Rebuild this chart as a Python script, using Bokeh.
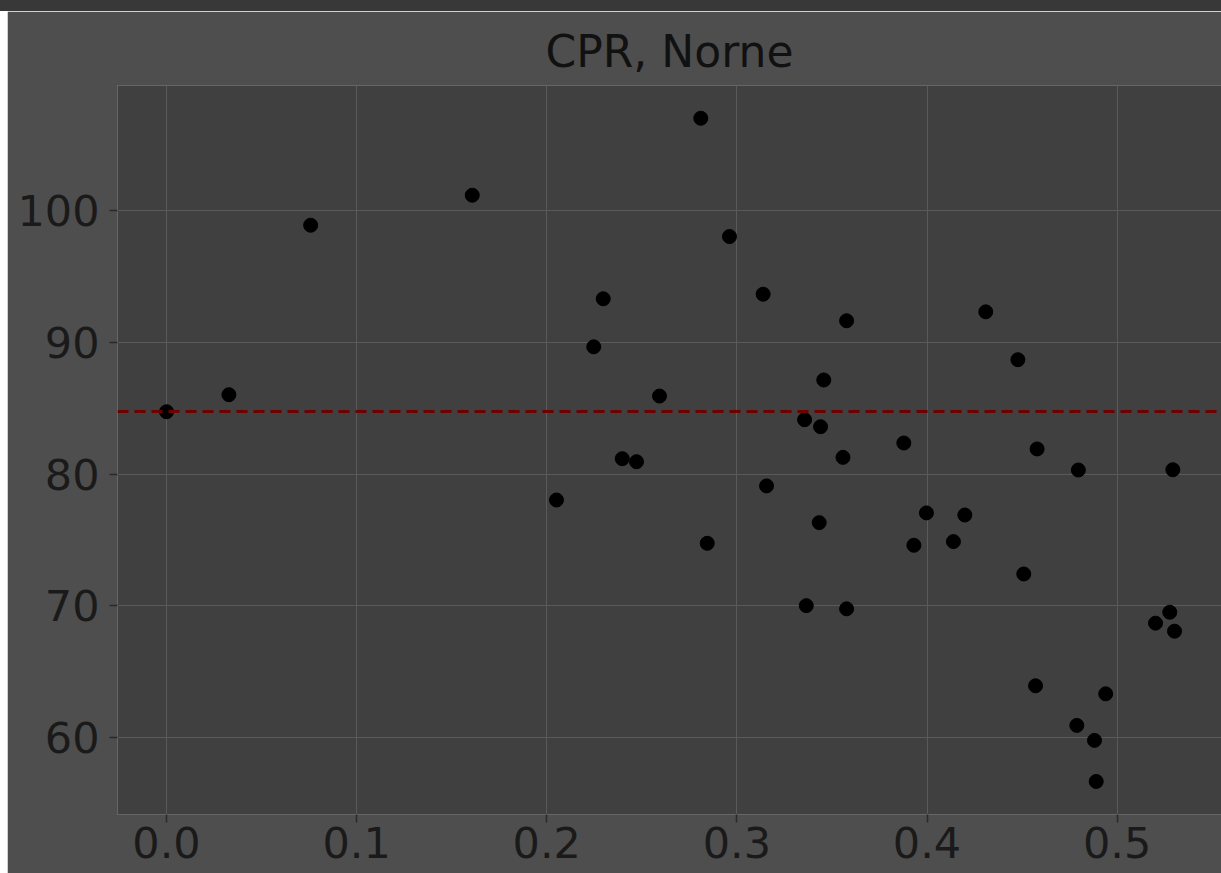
from bokeh.plotting import figure
from bokeh.models import Range1d, Span, FixedTicker, PrintfTickFormatter, Div, Spacer, BoxAnnotation
from bokeh.layouts import column, row
from bokeh.embed import file_html
from bokeh.resources import INLINE

# data
x_vals = [0.0000, 0.0328, 0.0758, 0.1608, 0.2051, 0.2247, 0.2297, 0.2397, 0.2472, 0.2593,
          0.2810, 0.2844, 0.2961, 0.3138, 0.3156, 0.3365, 0.3356, 0.3440, 0.3433, 0.3457,
          0.3558, 0.3577, 0.3577, 0.3878, 0.3931, 0.3997, 0.4139, 0.4199, 0.4309, 0.4478,
          0.4509, 0.4579, 0.4571, 0.4796, 0.4788, 0.4881, 0.4890, 0.4940, 0.5202, 0.5277,
          0.5302, 0.5293]
y_vals = [84.74, 86.03, 98.91, 101.19, 78.03, 89.67, 93.32, 81.17, 80.94, 85.93,
          107.04, 74.74, 98.05, 93.67, 79.10, 70.00, 84.13, 83.60, 76.31, 87.15,
          81.27, 91.65, 69.76, 82.36, 74.59, 77.05, 74.87, 76.89, 92.33, 88.69,
          72.41, 81.91, 63.91, 80.31, 60.90, 59.76, 56.64, 63.30, 68.67, 69.50,
          68.06, 80.33]
reference_level = 84.75
x_ticks = [0.0, 0.1, 0.2, 0.3, 0.4, 0.5]
y_ticks = [60, 70, 80, 90, 100]
title_text = "CPR, Norne"

FONT = "DejaVu Sans"

p = figure(width=1214, height=862, output_backend="svg", toolbar_location=None,
           x_range=Range1d(-0.0258, 0.5549), y_range=Range1d(54.13, 109.53),
           min_border_left=110, min_border_right=0, min_border_top=74, min_border_bottom=59,
           background_fill_color="#404040", border_fill_color="#4e4e4e")
p.outline_line_color = None

# plot-area fill drawn under the grid so that the frame has no light edge
p.add_layout(BoxAnnotation(fill_color="#404040", fill_alpha=1.0, line_color=None,
                           level="image"))

p.title.text = title_text
p.title.align = "center"
p.title.text_font = FONT
p.title.text_font_size = "44px"
p.title.text_font_style = "normal"
p.title.text_color = "#111111"
p.title.standoff = 18

for ax in (p.xaxis[0], p.yaxis[0]):
    ax.axis_line_color = None
    ax.major_tick_line_color = "#2a2a2a"
    ax.major_tick_line_width = 1.5
    ax.major_tick_in = 0
    ax.major_tick_out = 8
    ax.minor_tick_line_color = None
    ax.major_label_text_font = FONT
    ax.major_label_text_font_size = "43px"
    ax.major_label_text_color = "#1a1a1a"

p.xaxis[0].ticker = FixedTicker(ticks=x_ticks)
p.xaxis[0].formatter = PrintfTickFormatter(format="%.1f")
p.yaxis[0].ticker = FixedTicker(ticks=y_ticks)
p.xaxis[0].major_label_standoff = 4
p.yaxis[0].major_label_standoff = 10

p.xgrid.grid_line_color = "#5a5a5a"
p.ygrid.grid_line_color = "#5a5a5a"
p.xgrid.grid_line_width = 1
p.ygrid.grid_line_width = 1
p.xgrid.ticker = FixedTicker(ticks=x_ticks)
p.ygrid.ticker = FixedTicker(ticks=y_ticks)

p.add_layout(Span(location=reference_level, dimension="width", line_color="#6e0000",
                  line_width=3, line_dash="11 6"))

p.scatter(x_vals, y_vals, size=14, fill_color="black", line_color="black")

top_strip = Div(text="", width=1221, height=11, margin=0,
                styles={"background-color": "#383838"})
left_gap = Spacer(width=7, height=862, margin=0)
layout = column(top_strip, row(left_gap, p, spacing=0), spacing=0)

open("out.html", "w").write(file_html(layout, INLINE))
